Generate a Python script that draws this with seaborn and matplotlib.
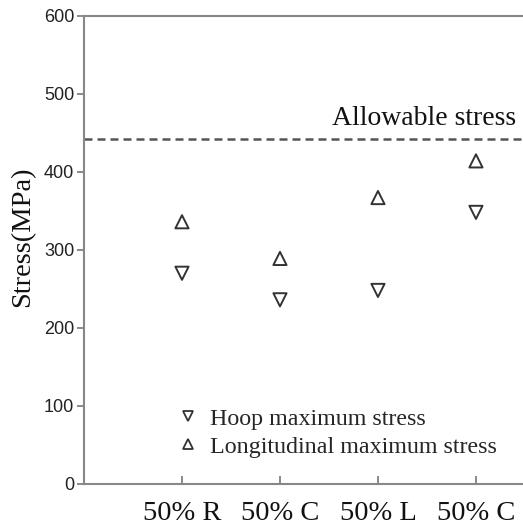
import matplotlib
matplotlib.use("Agg")
import matplotlib.pyplot as plt
import seaborn as sns
import pandas as pd
from matplotlib.lines import Line2D

categories = ["50% R", "50% C", "50% L", "50% C"]
hoop = [270, 236, 248, 348]
longitudinal = [336, 289, 367, 414]
allowable = 442
y_ticks = [0, 100, 200, 300, 400, 500, 600]

sns.set_theme(style="ticks")
plt.rcParams["font.family"] = ["Liberation Sans", "DejaVu Sans"]

pos = list(range(len(categories)))
df_h = pd.DataFrame({"x": pos, "y": hoop})
df_l = pd.DataFrame({"x": pos, "y": longitudinal})

W, H = 523, 531
fig = plt.figure(figsize=(W / 100, H / 100), dpi=100)
ax = fig.add_axes([84 / W, 1 - 484 / H, (W - 84) / W, (484 - 15.7) / H])

mk = dict(s=90, facecolor="none", edgecolor="#333333", linewidth=1.4)
sns.scatterplot(data=df_h, x="x", y="y", marker="v", ax=ax, **mk)
sns.scatterplot(data=df_l, x="x", y="y", marker="^", ax=ax, **mk)

ax.axhline(allowable, color="#555555", linestyle=(0, (3.2, 2.0)), linewidth=1.8)
ax.text(3.41, 460, "Allowable stress", ha="right", va="baseline",
        fontsize=20, family="Liberation Serif", color="#111111")

ax.set_xlim(-1.0, 3.48)
ax.set_ylim(0, 600)
ax.set_yticks(y_ticks)
ax.set_yticklabels([str(v) for v in y_ticks], fontsize=13, color="#222222")
ax.set_xticks(pos)
ax.set_xticklabels(categories, fontsize=20.5, family="Liberation Serif", color="#111111")
ax.tick_params(axis="x", direction="in", length=6, width=1.2, color="#777777", pad=12)
ax.tick_params(axis="y", direction="out", length=5, width=1.2, color="#777777", pad=2)
ax.set_xlabel("")
ax.set_ylabel("Stress(MPa)", fontsize=20.5, family="Liberation Serif", color="#111111")
ax.yaxis.set_label_coords(-0.112, 0.528)

for side in ["left", "top", "bottom"]:
    ax.spines[side].set_color("#888888")
    ax.spines[side].set_linewidth(1.5)
ax.spines["right"].set_visible(False)

handles = [
    Line2D([], [], marker="v", linestyle="none", markersize=7.5, markerfacecolor="none",
           markeredgecolor="#333333", markeredgewidth=1.3),
    Line2D([], [], marker="^", linestyle="none", markersize=7.5, markerfacecolor="none",
           markeredgecolor="#333333", markeredgewidth=1.3),
]
ax.legend(handles, ["Hoop maximum stress", "Longitudinal maximum stress"],
          loc="lower left", bbox_to_anchor=(0.16, 0.01), frameon=False,
          prop={"family": "Liberation Serif", "size": 17.3}, handletextpad=0.4,
          labelspacing=0.25, handlelength=1.0)

fig.savefig("out.png", dpi=100)
